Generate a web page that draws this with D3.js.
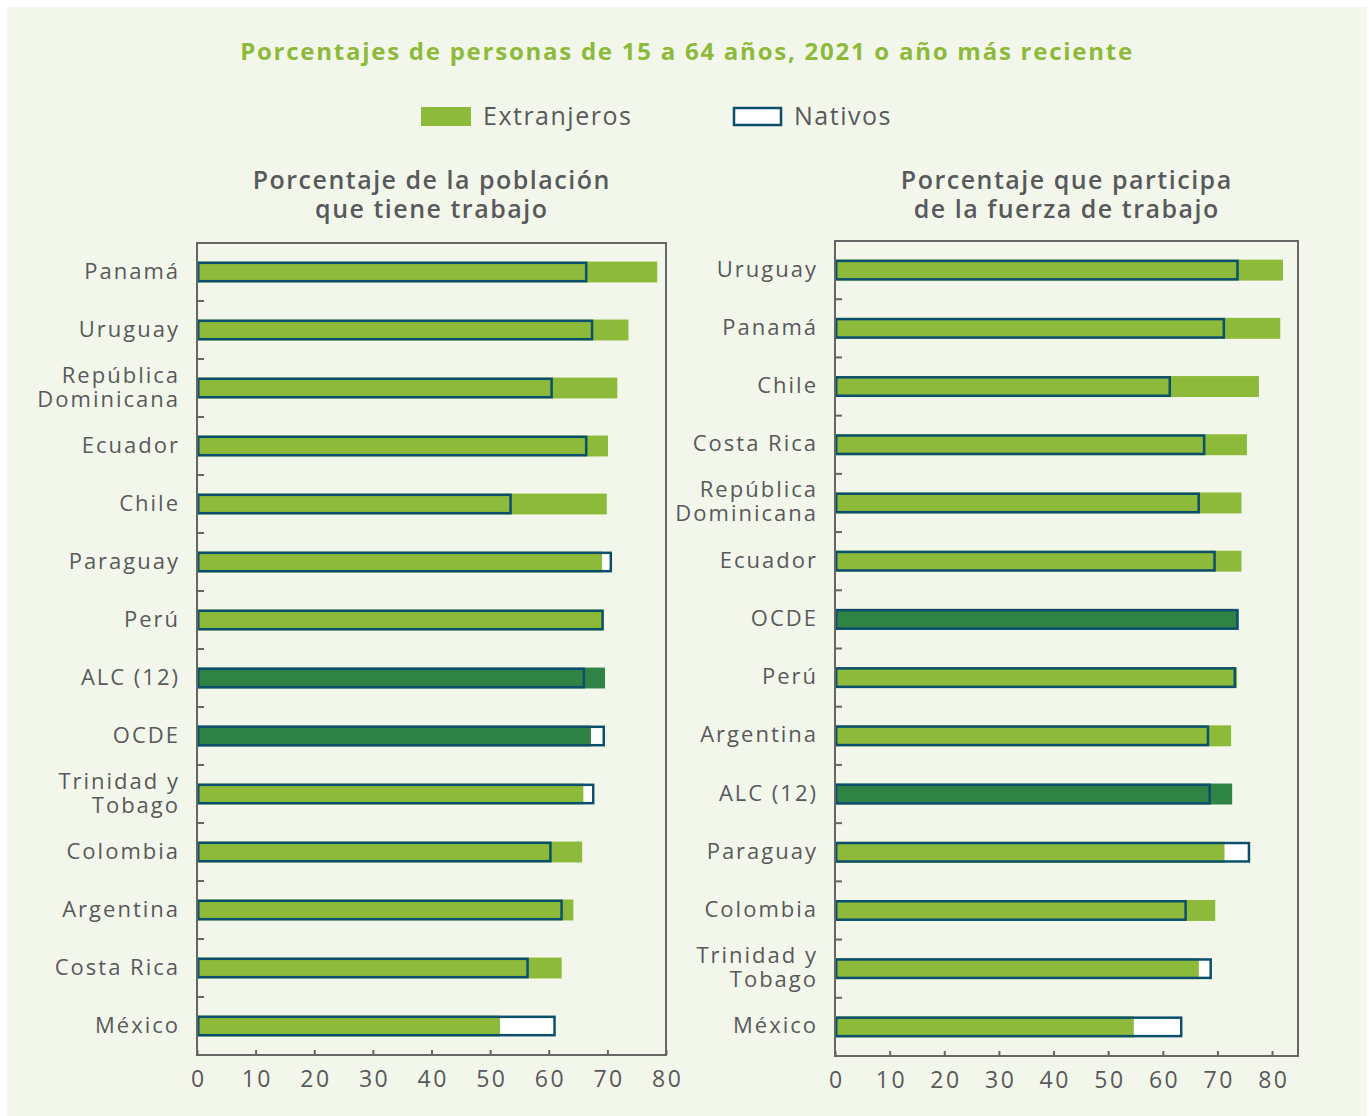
<!DOCTYPE html>
<html lang="es">
<head>
<meta charset="utf-8">
<script src="https://cdn.jsdelivr.net/npm/d3@7"></script>
<style>
  html, body { margin: 0; padding: 0; background: #ffffff; }
  svg { display: block; }
  text { font-family: "Open Sans", "Noto Sans", sans-serif; }
</style>
</head>
<body>
<svg id="chart" width="1369" height="1116"></svg>
<script>
// Employment rate, ages 15-64 (left panel)
const empCategories = ["Panamá", "Uruguay", "República\nDominicana", "Ecuador", "Chile", "Paraguay", "Perú",
  "ALC (12)", "OCDE", "Trinidad y\nTobago", "Colombia", "Argentina", "Costa Rica", "México"];
const empForeign = [78.5, 73.6, 71.7, 70.1, 69.9, 69.1, 69.2, 69.6, 67.2, 65.9, 65.7, 64.2, 62.2, 51.7];
const empNative  = [66.6, 67.6, 60.7, 66.6, 53.7, 70.8, 69.4, 66.2, 69.6, 67.8, 60.5, 62.4, 56.6, 61.2];

// Labour force participation rate, ages 15-64 (right panel)
const lfpCategories = ["Uruguay", "Panamá", "Chile", "Costa Rica", "República\nDominicana", "Ecuador", "OCDE",
  "Perú", "Argentina", "ALC (12)", "Paraguay", "Colombia", "Trinidad y\nTobago", "México"];
const lfpForeign = [82.0, 81.5, 77.6, 75.4, 74.4, 74.4, 73.8, 73.6, 72.5, 72.7, 71.3, 69.6, 66.6, 54.7];
const lfpNative  = [73.9, 71.4, 61.5, 67.8, 66.8, 69.7, 73.9, 73.4, 68.5, 68.8, 76.0, 64.4, 69.0, 63.6];

const aggregates = ["ALC (12)", "OCDE"];
const xTicks = [0, 10, 20, 30, 40, 50, 60, 70, 80];

const title = "Porcentajes de personas de 15 a 64 años, 2021 o año más reciente";
const legendLabels = ["Extranjeros", "Nativos"];

const C = {
  bg: "#f3f7eb",
  green: "#8dba3a",
  dark: "#2f8445",
  outline: "#0c4f6d",
  frame: "#666666",
  text: "#58595b",
  title: "#8dba3a"
};

const svg = d3.select("#chart");

// page panel
svg.append("rect").attr("x", 7).attr("y", 7).attr("width", 1360).attr("height", 1109).attr("fill", C.bg);

// main title
svg.append("text")
  .attr("x", 687).attr("y", 60)
  .attr("text-anchor", "middle")
  .attr("fill", C.title)
  .attr("font-size", 24).attr("font-weight", 700)
  .attr("letter-spacing", 1.75)
  .text(title);

// legend
const legend = svg.append("g");
legend.append("rect").attr("x", 421).attr("y", 107).attr("width", 50).attr("height", 19).attr("fill", C.green);
legend.append("text").attr("x", 483).attr("y", 125).attr("font-size", 25).attr("letter-spacing", 1.5)
  .attr("fill", C.text).text(legendLabels[0]);
legend.append("rect").attr("x", 734).attr("y", 108).attr("width", 47).attr("height", 17)
  .attr("fill", "#ffffff").attr("stroke", C.outline).attr("stroke-width", 2.5);
legend.append("text").attr("x", 794).attr("y", 125).attr("font-size", 25).attr("letter-spacing", 1.5)
  .attr("fill", C.text).text(legendLabels[1]);

function panel(opts) {
  const { left, right, top, bottom, xMax, cats, foreign, native, titleLines, titleX } = opts;
  const g = svg.append("g");

  const x = d3.scaleLinear().domain([0, xMax]).range([left, right]);
  const y = d3.scaleBand().domain(cats).range([top, bottom]).paddingInner(0.64).paddingOuter(0.32);
  const yCell = d3.scaleBand().domain(cats).range([top, bottom]).padding(0);

  // panel heading
  const th = g.append("text").attr("text-anchor", "middle").attr("fill", C.text)
    .attr("font-size", 25).attr("font-weight", 600).attr("letter-spacing", 1.5);
  titleLines.forEach((t, i) => {
    th.append("tspan").attr("x", titleX + 0.75).attr("y", 189 + i * 29).text(t);
  });

  const rows = cats.map((c, i) => ({ c, f: foreign[i], n: native[i] }));
  const hInset = 1.25;

  // native: white body
  g.selectAll(".nat-bg").data(rows).join("rect")
    .attr("x", x(0)).attr("y", d => y(d.c))
    .attr("width", d => x(d.n) - x(0)).attr("height", y.bandwidth())
    .attr("fill", "#ffffff");

  // foreign: filled bar
  g.selectAll(".for").data(rows).join("rect")
    .attr("x", x(0)).attr("y", d => y(d.c))
    .attr("width", d => x(d.f) - x(0)).attr("height", y.bandwidth())
    .attr("fill", d => aggregates.includes(d.c) ? C.dark : C.green);

  // native: outline on top
  g.selectAll(".nat").data(rows).join("rect")
    .attr("x", x(0) + hInset).attr("y", d => y(d.c) + hInset)
    .attr("width", d => x(d.n) - x(0) - 2 * hInset).attr("height", y.bandwidth() - 2 * hInset)
    .attr("fill", "none").attr("stroke", C.outline).attr("stroke-width", 2.5);

  // frame
  g.append("rect").attr("x", left).attr("y", top).attr("width", right - left).attr("height", bottom - top)
    .attr("fill", "none").attr("stroke", C.frame).attr("stroke-width", 2);

  // category separators (inward ticks on the left edge)
  g.selectAll(".sep").data(cats.slice(0, -1)).join("line")
    .attr("x1", left).attr("x2", left + 7)
    .attr("y1", d => yCell(d) + yCell.bandwidth()).attr("y2", d => yCell(d) + yCell.bandwidth())
    .attr("stroke", C.frame).attr("stroke-width", 2);

  // category labels, one text per line
  const ls = 2;
  cats.forEach(d => {
    const parts = d.split("\n");
    const cy = y(d) + y.bandwidth() / 2;
    parts.forEach((p, i) => {
      g.append("text")
        .attr("text-anchor", "end").attr("fill", C.text)
        .attr("font-size", 22).attr("letter-spacing", ls)
        .attr("x", left - 19 + ls)
        .attr("y", cy + 6.5 + (i - (parts.length - 1) / 2) * 24)
        .text(p);
    });
  });

  // x axis
  const ax = g.append("g").attr("transform", `translate(0,${bottom})`)
    .call(d3.axisBottom(x).tickValues(xTicks).tickSizeInner(-5).tickSizeOuter(0).tickPadding(16));
  ax.select(".domain").remove();
  ax.selectAll(".tick line").attr("stroke", C.frame).attr("stroke-width", 2);
  ax.selectAll(".tick text").attr("fill", C.text).attr("font-size", 23)
    .attr("letter-spacing", 2.5).attr("dx", 1.25)
    .attr("font-family", "\"Open Sans\", \"Noto Sans\", sans-serif");
}

panel({
  left: 197, right: 666, top: 243, bottom: 1055, xMax: 80,
  cats: empCategories, foreign: empForeign, native: empNative,
  titleLines: ["Porcentaje de la población", "que tiene trabajo"], titleX: 431
});

panel({
  left: 835, right: 1298, top: 241, bottom: 1056, xMax: 84.75,
  cats: lfpCategories, foreign: lfpForeign, native: lfpNative,
  titleLines: ["Porcentaje que participa", "de la fuerza de trabajo"], titleX: 1066
});
</script>
</body>
</html>
